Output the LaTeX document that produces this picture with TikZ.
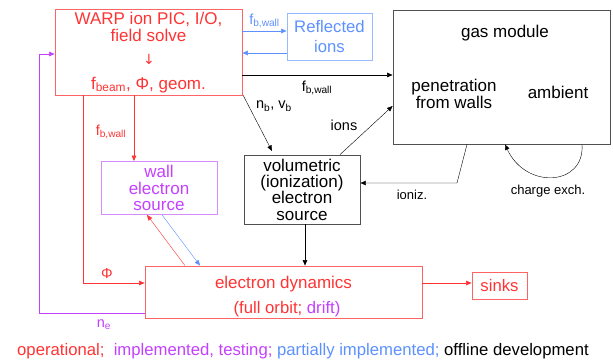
\documentclass[tikz,border=0pt]{standalone}
\usepackage{fontspec}
\setmainfont{Liberation Sans}
\newfontfamily\arrowfont{DejaVu Sans}
\usetikzlibrary{arrows.meta}

\definecolor{opred}{RGB}{255,51,51}
\definecolor{boxred}{RGB}{255,100,100}
\definecolor{impviolet}{RGB}{196,64,255}
\definecolor{boxviolet}{RGB}{214,140,255}
\definecolor{partblue}{RGB}{92,145,255}
\definecolor{boxblue}{RGB}{150,185,255}
\definecolor{offgray}{RGB}{80,80,80}

\tikzset{
    bigtext/.style={font=\fontsize{17}{16.3}\selectfont, align=center, inner sep=0pt},
    midtext/.style={font=\fontsize{16.7}{15}\selectfont, align=center, inner sep=0pt},
    smalltext/.style={font=\fontsize{14.5}{14}\selectfont, inner sep=0pt},
    blockbox/.style={draw, rectangle, inner sep=0pt, line width=0.8pt},
    link/.style={-{Triangle[length=5.5pt,width=4.5pt]}, line width=0.6pt},
}

\begin{document}
\begin{tikzpicture}[x=1pt, y=-1pt]
            \useasboundingbox (0,0) rectangle (613,362);

            % blocks
            \node[blockbox, draw=boxred, minimum width=187pt, minimum height=86pt] (warp) at (148.5, 52) {};
            \node[blockbox, draw=boxblue, minimum width=85pt, minimum height=47pt, midtext, text=partblue] (refl) at (329.5, 36.5) {Reflected\\[5pt]ions};
            \node[blockbox, draw=offgray, minimum width=217pt, minimum height=134pt] (gas) at (501.5, 77) {};
            \node[blockbox, draw=offgray, minimum width=116pt, minimum height=69pt, bigtext] (vol) at (302, 189.5) {volumetric\\(ionization)\\electron\\source};
            \node[blockbox, draw=boxviolet, minimum width=116pt, minimum height=53pt, bigtext, text=impviolet] (wall) at (159, 188) {wall\\electron\\source};
            \node[blockbox, draw=boxred, minimum width=277pt, minimum height=52pt] (edyn) at (283.5, 292) {};
            \node[blockbox, draw=boxred, minimum width=55pt, minimum height=27pt, midtext, text=opred] (sinks) at (499.5, 285.5) {sinks};

            % texts inside the big blocks
            \node[bigtext, text=opred, anchor=base] (warp1) at (148.5, 24.5) {WARP ion PIC, I/O,};
            \node[bigtext, text=opred, anchor=base] (warp2) at (148.5, 41) {field solve};
            \node[font=\arrowfont\fontsize{14}{14}\selectfont, text=opred, inner sep=0pt] (warp3) at (149, 59.5) {↓};
            \node[bigtext, text=opred, anchor=base] (warp4) at (148.5, 89) {f\textsubscript{beam}, Φ, geom.};

            \node[bigtext, anchor=base] (gas1) at (505, 37) {gas module};
            \node[bigtext, anchor=base] (gas2) at (454, 91.5) {penetration};
            \node[bigtext, anchor=base] (gas3) at (454, 108) {from walls};
            \node[bigtext, anchor=base] (gas4) at (558, 98) {ambient};

            \node[bigtext, text=opred, anchor=base] (edyn1) at (283.5, 288) {electron dynamics};
            \node[midtext, text=opred, anchor=base] (edyn2) at (287, 313) {(full orbit; \textcolor{impviolet}{drift)}};

            % connectors
            \draw[link, partblue] (warp.east |- 0,31) to[] node[above, smalltext, text=partblue, yshift=3pt]{f\textsubscript{b,wall}} (refl.west |- 0,31);
            \draw[link, partblue] (refl.west |- 0,53) to[] (warp.east |- 0,53);
            \draw[link] (warp.east |- 0,75) to[] (gas.west |- 0,75);
            \node[smalltext] (fbw1) at (317, 88) {f\textsubscript{b,wall}};
            \draw[link, line width=0.4pt] (243, 95) to[] (272, 151);
            \node[smalltext] (nbvb) at (274, 106) {n\textsubscript{b}, v\textsubscript{b}};
            \draw[link, line width=0.4pt] (vol.north -| 340,0) to[] (gas.west |- 0,106);
            \node[smalltext] (ions) at (344, 125) {ions};
            \draw[link, line width=0.4pt] (gas.south -| 467,0) -- (457, 183) -- (vol.east |- 0,183);
            \node[smalltext, font=\fontsize{13}{13}\selectfont] (ioniz) at (412, 195) {ioniz.};
            \draw[link, line width=0.4pt] (gas.south -| 582,0) .. controls (585, 186) and (526, 190) .. (gas.south -| 505,0);
            \node[smalltext, font=\fontsize{13}{13}\selectfont] (chex) at (548, 191) {charge exch.};

            \draw[link, opred] (warp.south -| 134,0) to[] (wall.north -| 134,0);
            \node[smalltext, text=opred] (fbw2) at (111, 132) {f\textsubscript{b,wall}};
            \draw[link, opred] (warp.south -| 83,0) -- (83, 283) -- (edyn.west |- 0,283);
            \node[smalltext, text=opred] (phi) at (107, 274) {Φ};
            \draw[link, opred, line width=0.4pt] (edyn.north -| 185,0) to[] (wall.south -| 147,0);
            \draw[link, partblue, line width=0.4pt] (wall.south -| 162,0) to[] (edyn.north -| 200,0);
            \draw[link] (vol.south -| 305,0) to[] (edyn.north -| 305,0);
            \draw[link, opred] (edyn.east |- 0,283) to[] (sinks.west |- 0,283);
            \draw[link, impviolet] (edyn.west |- 0,313) -- (39, 313) -- (39, 54) -- (warp.west |- 0,54);
            \node[smalltext, text=impviolet] (ne) at (104, 325) {n\textsubscript{e}};

            % key
            \node[midtext, anchor=base west] (legend) at (17, 355) {\textcolor{opred}{operational;}\ \ \textcolor{impviolet}{implemented, testing;} \textcolor{partblue}{partially implemented;} offline development};
\end{tikzpicture}
\end{document}
